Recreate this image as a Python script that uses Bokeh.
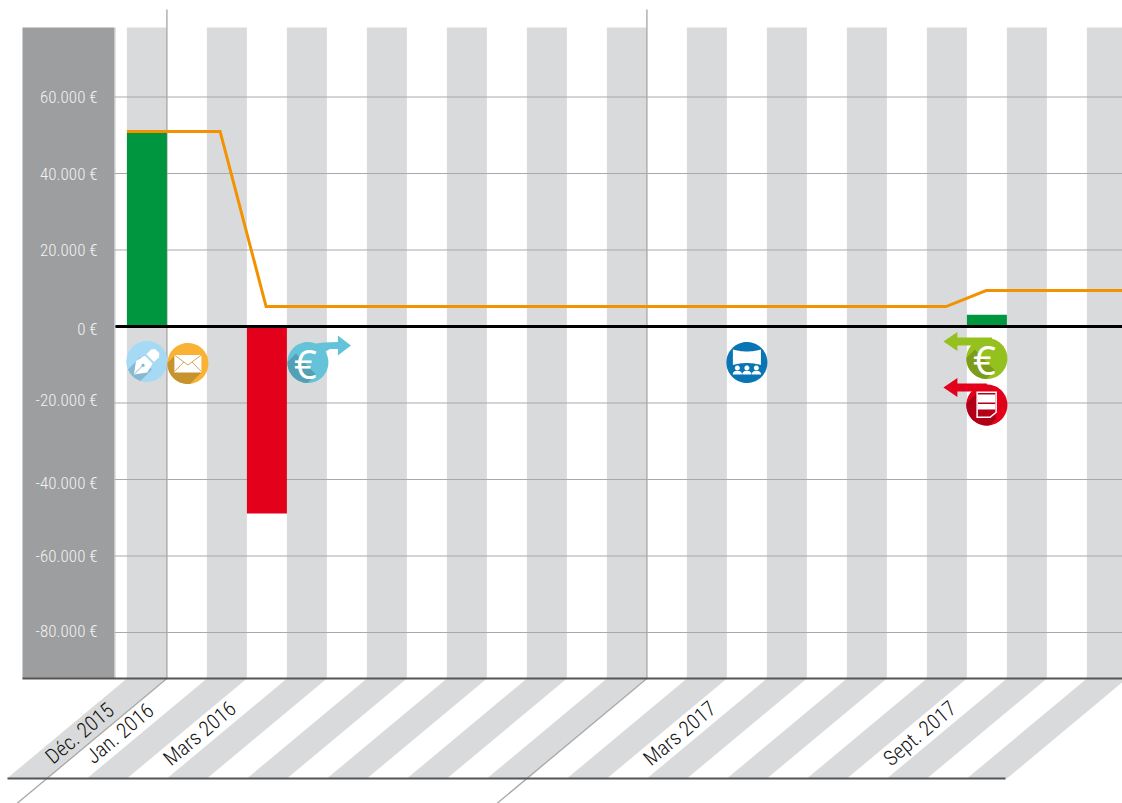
import numpy as np
from bokeh.plotting import figure
from bokeh.models import Range1d
from bokeh.core.properties import value
from bokeh.embed import file_html
from bokeh.resources import INLINE

# ---- data ----
tick_values = [60000, 40000, 20000, 0, -20000, -40000, -60000, -80000]
tick_labels = ["60.000 €", "40.000 €", "20.000 €", "0 €", "-20.000 €", "-40.000 €", "-60.000 €", "-80.000 €"]
tick_label_nudge = [0, 0, 0, 2, -3, 3, 0, -2]
stripe_months = list(range(0, 25, 2))
label_months = [0, 1, 3, 15, 21]
label_texts = ["Déc. 2015", "Jan. 2016", "Mars 2016", "Mars 2017", "Sept. 2017"]
bar_months = [0, 3, 21]
bar_values = [51000, -48900, 3100]
bar_colors = ["#009640", "#e2001a", "#009640"]
line_months = [-0.5, 1.83, 2.98, 19.98, 20.98, 24.4]
line_values = [51000, 51000, 5200, 5200, 9400, 9400]
year_breaks = [0.5, 12.5]
icon_months = [0, 1.025, 4.025, 15, 21, 21]
icon_values = [-9150, -9670, -9410, -9410, -8370, -20520]

# ---- scales: 40 px per month, 76.5 px per 20 000 ----
W, H = 1122, 803
PXM, PXV = 40.0, 76.5 / 20000
X0, Y0 = 146.4, 326.0          # page position of month 0 and of value 0
def mx(px): return (px - X0) / PXM
def vy(py): return (Y0 - py) / PXV

p = figure(width=W, height=H, output_backend="svg", toolbar_location=None,
           x_range=Range1d(mx(0), mx(W)), y_range=Range1d(vy(H), vy(0)),
           min_border=0, min_border_left=0, min_border_right=0, min_border_top=0, min_border_bottom=0,
           outline_line_color=None, background_fill_color="white", border_fill_color="white")
p.xaxis.visible = False
p.yaxis.visible = False
p.grid.visible = False

STRIPE = "#d9dadb"
FONT = value("Roboto Condensed Light, Roboto Condensed, Roboto Light, Roboto")
top_v, base_v, foot_v = vy(27), vy(678), vy(778)
skew = 120 / PXM

# left band
p.quad(left=[mx(22)], right=[mx(114)], top=[top_v], bottom=[base_v], fill_color="#9d9e9f", line_color=None)
p.segment([mx(114.5)], [top_v], [mx(114.5)], [base_v], line_color="#c4c5c6", line_width=1)

# stripes: upper part and slanted foot
p.quad(left=[m - .5 for m in stripe_months], right=[m + .5 for m in stripe_months],
       top=top_v, bottom=base_v, fill_color=STRIPE, line_color=None)
p.patches([[m - .5, m + .5, m + .5 - skew, m - .5 - skew] for m in stripe_months],
          [[base_v, base_v, foot_v, foot_v] for m in stripe_months], fill_color=STRIPE, line_color=None)

# grid
p.segment([mx(114)] * len(tick_values), tick_values, [mx(1122)] * len(tick_values), tick_values,
          line_color="#a8a9aa", line_width=1)

# year separators
for b in year_breaks:
    s = (678 - 803) / 100 * 120 / PXM
    p.line([b, b, b + s], [vy(9), base_v, vy(803)], line_color="#ababab", line_width=1.4)

# bars
p.vbar(x=bar_months, width=1, bottom=0, top=bar_values, fill_color=bar_colors, line_color=None)

# base lines
p.segment([mx(22)], [base_v], [mx(1122)], [base_v], line_color="#555555", line_width=2)
p.segment([mx(7)], [foot_v], [mx(1005)], [foot_v], line_color="#555555", line_width=2)

# balance line, zero line
p.line(line_months, line_values, line_color="#f39200", line_width=3, line_join="miter")
p.segment([mx(115)], [0], [mx(1122)], [0], line_color="#000000", line_width=3)

# tick labels
p.text(x=[mx(97)] * len(tick_values), y=[v - n / PXV for v, n in zip(tick_values, tick_label_nudge)],
       text=tick_labels, text_align="right", text_baseline="middle",
       text_color="#f2f2f2", text_font=FONT, text_font_size="17px")

# month labels
p.text(x=[m - 67 / PXM for m in label_months], y=[vy(733)] * len(label_months), text=label_texts,
       text_align="center", text_baseline="middle", angle=40, angle_units="deg",
       text_color="#111111", text_font=FONT, text_font_size="21px")

# ---- icons (pixel offsets around each icon's anchor) ----
R = 20.5
def poly(k, pts, color):
    xs = [icon_months[k] + a / PXM for a, b in pts]
    ys = [icon_values[k] - b / PXV for a, b in pts]
    p.patch(xs, ys, fill_color=color, line_color=None)

def hit(a):
    d = np.array([-1, 1]) / np.sqrt(2)
    a = np.array(a, float)
    b = a @ d
    t = -b + np.sqrt(b * b - (a @ a - R * R))
    return a + t * d

def shadow(k, a, b, color):
    ha, hb = hit(a), hit(b)
    base = 3 * np.pi / 4
    def ang(v):
        x = np.arctan2(v[1], v[0]) - base
        return (x + np.pi) % (2 * np.pi) - np.pi
    th = np.linspace(ang(hb), ang(ha), 30) + base
    arc = [(R * np.cos(t), R * np.sin(t)) for t in th]
    poly(k, [tuple(a), tuple(b)] + arc, color)

def disc(k, color):
    t = np.linspace(0, 2 * np.pi, 80)
    poly(k, [(R * np.cos(a), R * np.sin(a)) for a in t], color)

def seg(k, pts, color, w=1):
    p.line([icon_months[k] + a / PXM for a, b in pts], [icon_values[k] - b / PXV for a, b in pts],
           line_color=color, line_width=w)

def euro(k):
    p.text(x=[icon_months[k] - 2.5 / PXM], y=[icon_values[k] - 1 / PXV], text=["€"], text_align="center",
           text_baseline="middle", text_color="white", text_font=value("Open Sans"), text_font_size="40px")

def left_arrow(k, tip_x, tip_y, end_x, color):
    poly(k, [(tip_x, tip_y), (tip_x + 14, tip_y - 9.5), (tip_x + 14, tip_y - 4), (end_x, tip_y - 4),
             (end_x, tip_y + 4), (tip_x + 14, tip_y + 4), (tip_x + 14, tip_y + 9.5)], color)

# pen
k = 0
disc(k, "#a5d9f4")
shadow(k, (-7, -4), (5, 8), "#85b9d3")
uv = lambda u, v: (-13 + (u - v) * 0.7071, 13 - (u + v) * 0.7071)
poly(k, [uv(0, 0), uv(11, 8), uv(21, 5.5), uv(21, -5.5), uv(11, -8)], "white")
poly(k, [uv(23, 5.5), uv(30, 5.5), uv(33, 3), uv(33, -3), uv(30, -5.5), uv(23, -5.5)], "white")
seg(k, [uv(1, 0), uv(12, 0)], "#85b9d3", 1)
th = np.linspace(0, 2 * np.pi, 12)
poly(k, [(uv(13, 0)[0] + 1.6 * np.cos(a), uv(13, 0)[1] + 1.6 * np.sin(a)) for a in th], "#85b9d3")

# envelope
k = 1
disc(k, "#f9b233")
shadow(k, (-13, -8), (13.5, 9), "#c7932f")
poly(k, [(-13.5, -8.5), (13.5, -8.5), (13.5, 9), (-13.5, 9)], "white")
seg(k, [(-13.5, -8.5), (0, 1.5), (13.5, -8.5)], "#d9a553", 1)
seg(k, [(-13.5, 8), (-4, -1.5)], "#d9a553", 1)
seg(k, [(13.5, 8), (4, -1.5)], "#d9a553", 1)

# euro out
k = 2
poly(k, [(8, -19), (16, -20), (30, -20.5), (30, -27), (43, -17), (30, -7), (30, -13.5), (22, -13.5), (14, -9)], "#64c3d8")
disc(k, "#64c3d8")
shadow(k, (-12, -9), (8, 12), "#539fb3")
euro(k)

# screen
k = 3
disc(k, "#0a75b5")
t = np.linspace(-1, 1, 15)
top = [(14 * a, -13 + 2 * (1 - a * a)) for a in t]
bot = [(14 * a, 2.5 - 2 * (1 - a * a)) for a in t[::-1]]
poly(k, top + bot, "white")
for c in (-9.5, 0, 9.5):
    th = np.linspace(0, 2 * np.pi, 16)
    poly(k, [(c + 2.5 * np.cos(a), 5.5 + 2.5 * np.sin(a)) for a in th], "white")
    poly(k, [(c - 4.5, 12), (c - 4.5, 10.5), (c - 2.5, 8.5), (c + 2.5, 8.5), (c + 4.5, 10.5), (c + 4.5, 12)], "white")

# euro in
k = 4
left_arrow(k, -43.5, -17, 5, "#95c11f")
disc(k, "#95c11f")
shadow(k, (-12, -9), (8, 12), "#7c9c1a")
euro(k)

# document
k = 5
left_arrow(k, -43.5, -17.5, 0, "#e2001a")
disc(k, "#e2001a")
shadow(k, (-10, -12), (10, 13), "#b00018")
poly(k, [(-10.5, -13.5), (10, -13.5), (10, 7.5), (3.5, 13), (-10.5, 13)], "white")
poly(k, [(-9, -12), (8.5, -12), (8.5, 7), (3, 11.5), (-9, 11.5)], "#b5001a")
poly(k, [(-9, -10.5), (8.5, -10.5), (8.5, -2.5), (-9, -2.5)], "white")
poly(k, [(-9, -1), (8.5, -1), (8.5, 4.5), (-9, 4.5)], "white")

open("out.html", "w").write(file_html(p, INLINE))
